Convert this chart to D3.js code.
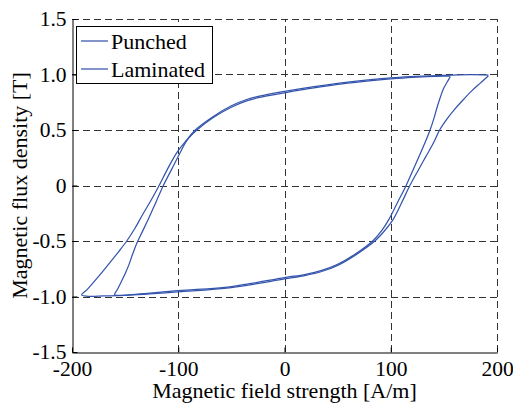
<!DOCTYPE html>
<html>
<head>
<meta charset="utf-8">
<script src="https://cdn.jsdelivr.net/npm/d3@7"></script>
<style>
  body { margin: 0; background: #fff; }
  text { font-family: "Liberation Serif", "Times New Roman", serif; fill: #000; }
</style>
</head>
<body>
<div id="chart"></div>
<script>
'use strict';

const width = 513;
const height = 403;

// tick values
const xTicks = [-200, -100, 0, 100, 200];
const yTicks = [-1.5, -1.0, -0.5, 0, 0.5, 1.0, 1.5];
const yTickLabels = ['-1.5', '-1.0', '-0.5', '0', '0.5', '1.0', '1.5'];

const seriesNames = ['Punched', 'Laminated'];

// Punched loop: descending branch (right tip -> left tip), then ascending branch
const hPunched = [156, 150, 120, 100, 50, 0, -20, -35, -50, -67, -83, -92, -98, -106, -114, -121, -128, -134, -139, -143, -146.5, -150, -153.5, -157, -160,
    -157, -150, -100, -50, 0, 20, 35, 50, 67, 83, 92, 98, 106, 114.5, 121, 127, 132, 137, 140.5, 143.5, 146.5, 149.5, 153, 156];
const bPunched = [0.985, 0.985, 0.975, 0.96, 0.91, 0.835, 0.8, 0.765, 0.705, 0.612, 0.495, 0.405, 0.3, 0.15, 0.0, -0.15, -0.3, -0.42, -0.52, -0.62, -0.715, -0.795, -0.865, -0.932, -0.985,
    -0.99, -0.988, -0.948, -0.91, -0.83, -0.8, -0.765, -0.71, -0.615, -0.5, -0.4, -0.31, -0.16, 0.0, 0.14, 0.27, 0.38, 0.5, 0.6, 0.7, 0.79, 0.87, 0.93, 0.98];

// Laminated loop: descending branch (right tip -> left tip), then ascending branch
const hLaminated = [192, 175, 150, 100, 50, 0, -20, -35, -50, -67, -84, -92, -101, -110, -118, -126, -134, -141, -148.5, -156, -164, -172, -180, -186, -191,
    -185, -170, -150, -100, -50, 0, 20, 35, 50, 67, 85, 94, 102, 110, 118, 126, 133, 140, 146, 153, 160.5, 168, 176, 184, 191.8];
const bLaminated = [0.995, 0.998, 0.992, 0.97, 0.92, 0.848, 0.812, 0.777, 0.718, 0.622, 0.5, 0.41, 0.3, 0.15, 0.0, -0.14, -0.27, -0.39, -0.5, -0.595, -0.69, -0.785, -0.875, -0.94, -0.986,
    -0.998, -0.995, -0.99, -0.958, -0.92, -0.842, -0.81, -0.775, -0.72, -0.625, -0.5, -0.41, -0.31, -0.16, 0.0, 0.14, 0.26, 0.38, 0.5, 0.6, 0.69, 0.77, 0.85, 0.92, 0.986];

const margin = {top: 19, right: 16, bottom: 51, left: 72};
const serif = '"Liberation Serif", "Times New Roman", serif';

const x = d3.scaleLinear().domain([-200, 200]).range([margin.left, width - margin.right]);
const y = d3.scaleLinear().domain([-1.5, 1.5]).range([height - margin.bottom, margin.top]);

let svg = d3.select('#chart').append('svg')
    .attr('width', width)
    .attr('height', height)
    .attr('font-family', serif);

svg.append('rect')
    .attr('width', width)
    .attr('height', height)
    .attr('fill', '#fff');

// grid (dashed)
let grid = svg.append('g')
    .attr('stroke', '#333')
    .attr('stroke-width', 1)
    .attr('stroke-dasharray', '7,4')
    .attr('fill', 'none');

grid.selectAll('.gx').data(xTicks.slice(1))
    .enter().append('line')
    .attr('x1', d => Math.round(x(d)) + 0.5).attr('x2', d => Math.round(x(d)) + 0.5)
    .attr('y1', y(-1.5)).attr('y2', y(1.5));

grid.selectAll('.gy').data(yTicks.slice(1))
    .enter().append('line')
    .attr('x1', x(-200)).attr('x2', x(200))
    .attr('y1', d => Math.round(y(d)) + 0.5).attr('y2', d => Math.round(y(d)) + 0.5);

// axes
const xAxis = d3.axisBottom(x).tickValues(xTicks).tickSizeInner(-5).tickSizeOuter(0).tickPadding(8)
    .tickFormat(d => String(d));
const yAxis = d3.axisLeft(y).tickValues(yTicks).tickSizeInner(-5).tickSizeOuter(0).tickPadding(6)
    .tickFormat((d, i) => yTickLabels[i]);

let gx = svg.append('g')
    .attr('transform', `translate(0,${Math.round(y(-1.5)) + 0.5})`)
    .call(xAxis);
let gy = svg.append('g')
    .attr('transform', `translate(${Math.round(x(-200)) + 0.5},0)`)
    .call(yAxis);

[gx, gy].forEach(g => {
    g.attr('font-family', serif).attr('font-size', 21.5);
    g.select('.domain').attr('stroke', '#000');
    g.selectAll('.tick line').attr('stroke', '#000');
    g.selectAll('.tick text')
        .attr('font-family', serif)
        .attr('font-size', 21.5)
        .style('font-family', serif)
        .style('font-size', '21.5px')
        .attr('fill', '#000');
});

// loops
const line = d3.line()
    .x(d => x(d[0]))
    .y(d => y(d[1]))
    .curve(d3.curveCatmullRom.alpha(0.5));

const loops = [
    d3.zip(hPunched, bPunched),
    d3.zip(hLaminated, bLaminated)
];

svg.append('g').selectAll('path').data(loops)
    .enter().append('path')
    .attr('d', line)
    .attr('fill', 'none')
    .attr('stroke', '#3555ad')
    .attr('stroke-width', 1.25);

// axis labels
svg.append('text')
    .attr('x', (x(-200) + x(200)) / 2)
    .attr('y', 398)
    .attr('text-anchor', 'middle')
    .style('font-size', '22px')
    .text('Magnetic field strength [A/m]');

svg.append('text')
    .attr('transform', `translate(27,${(y(-1.5) + y(1.5)) / 2}) rotate(-90)`)
    .attr('text-anchor', 'middle')
    .style('font-size', '22px')
    .text('Magnetic flux density [T]');

// legend
let legend = svg.append('g');
legend.append('rect')
    .attr('x', 76.5).attr('y', 26.5)
    .attr('width', 136).attr('height', 57)
    .attr('fill', '#fff')
    .attr('stroke', '#000');

seriesNames.forEach((name, i) => {
    const ly = 41 + i * 28;
    legend.append('line')
        .attr('x1', 81).attr('x2', 108)
        .attr('y1', ly).attr('y2', ly)
        .attr('stroke', '#3555ad')
        .attr('stroke-width', 1.25);
    legend.append('text')
        .attr('x', 111)
        .attr('y', ly + 7.5)
        .style('font-size', '22px')
        .text(name);
});
</script>
</body>
</html>
